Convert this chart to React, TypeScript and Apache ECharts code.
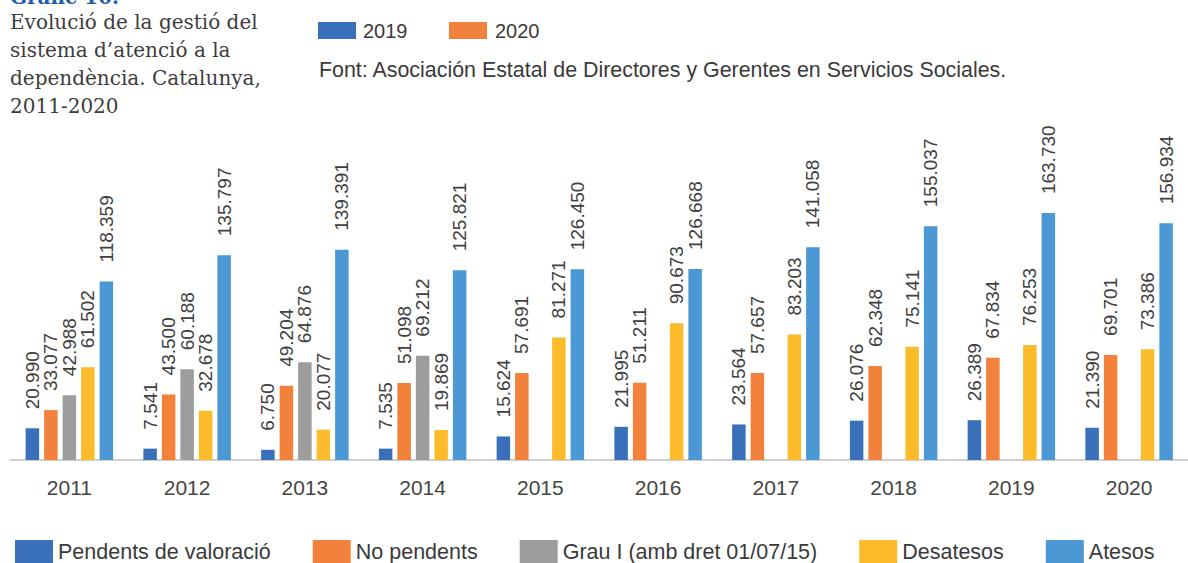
import React, { useEffect, useRef } from "react";
import * as echarts from "echarts";

const years = ["2011", "2012", "2013", "2014", "2015", "2016", "2017", "2018", "2019", "2020"];
const pendents = [20990, 7541, 6750, 7535, 15624, 21995, 23564, 26076, 26389, 21390];
const noPendents = [33077, 43500, 49204, 51098, 57691, 51211, 57657, 62348, 67834, 69701];
const grauI = [42988, 60188, 64876, 69212, null, null, null, null, null, null];
const desatesos = [61502, 32678, 20077, 19869, 81271, 90673, 83203, 75141, 76253, 73386];
const atesos = [118359, 135797, 139391, 125821, 126450, 126668, 141058, 155037, 163730, 156934];

const seriesNames = ["Pendents de valoració", "No pendents", "Grau I (amb dret 01/07/15)", "Desatesos", "Atesos"];
const seriesColors = ["#3a70ba", "#f1813b", "#9d9d9d", "#fbbb2a", "#4b98d5"];
const topLegend = ["2019", "2020"];
const titleLines = ["Evolució de la gestió del", "sistema d’atenció a la", "dependència. Catalunya,", "2011-2020"];
const sourceText = "Font: Asociación Estatal de Directores y Gerentes en Servicios Sociales.";

const fmt = (v: number) => String(v).replace(/\B(?=(\d{3})+(?!\d))/g, ".");

export default function App() {
  const ref = useRef<HTMLDivElement>(null);
  useEffect(() => {
    if (!ref.current) return;
    const chart = echarts.init(ref.current, undefined, { renderer: "svg" });
    const sans = "Liberation Sans, Arial, sans-serif";
    const dataSets = [pendents, noPendents, grauI, desatesos, atesos];
    chart.setOption({
      animation: false,
      textStyle: { fontFamily: sans },
      grid: { left: 10.5, right: -12.5, top: 158.4, bottom: 103, containLabel: false },
      xAxis: {
        type: "category",
        data: years,
        axisLine: { show: true, lineStyle: { color: "#cfcfcf", width: 2 } },
        axisTick: { show: false },
        axisLabel: { color: "#454545", fontSize: 21, margin: 17, fontFamily: sans },
      },
      yAxis: { type: "value", min: 0, max: 200000, show: false, splitLine: { show: false } },
      legend: {
        left: 10,
        top: 535,
        itemWidth: 38,
        itemHeight: 24,
        itemGap: 42,
        icon: "rect",
        textStyle: { fontSize: 21.5, color: "#3a3a3a", fontFamily: sans },
        data: seriesNames,
      },
      series: dataSets.map((d, i) => ({
        name: seriesNames[i],
        type: "bar",
        data: d,
        barWidth: 13.5,
        barGap: "37%",
        itemStyle: { color: seriesColors[i] },
        label: {
          show: true,
          position: "top",
          rotate: 90,
          align: "left",
          verticalAlign: "middle",
          distance: 19,
          fontSize: 19,
          color: "#404040",
          fontFamily: sans,
          formatter: (p: any) => (p.value == null ? "" : fmt(p.value)),
        },
      })),
      graphic: [
        {
          type: "text",
          x: 10,
          y: -3,
          style: { text: "Gràfic 10.", fontSize: 20, fontWeight: "bold", fill: "#1f5ea8", fontFamily: "DejaVu Serif, serif", verticalAlign: "middle" },
        },
        ...titleLines.map((t, i) => ({
          type: "text",
          x: 10,
          y: 22 + i * 28,
          style: { text: t, fontSize: 20, fill: "#3d3d3d", fontFamily: "DejaVu Serif, serif", verticalAlign: "middle" },
        })),
        { type: "rect", shape: { x: 318, y: 22, width: 38, height: 17 }, style: { fill: seriesColors[0] } },
        { type: "text", x: 363, y: 31, style: { text: topLegend[0], fontSize: 20, fill: "#3a3a3a", fontFamily: sans, verticalAlign: "middle" } },
        { type: "rect", shape: { x: 449, y: 22, width: 38, height: 17 }, style: { fill: seriesColors[1] } },
        { type: "text", x: 495, y: 31, style: { text: topLegend[1], fontSize: 20, fill: "#3a3a3a", fontFamily: sans, verticalAlign: "middle" } },
        { type: "text", x: 319, y: 70, style: { text: sourceText, fontSize: 21.4, fill: "#3a3a3a", fontFamily: sans, verticalAlign: "middle" } },
      ],
    });
    return () => chart.dispose();
  }, []);
  return <div ref={ref} style={{ width: 1188, height: 563, position: "absolute", left: 0, top: 0 }} />;
}
